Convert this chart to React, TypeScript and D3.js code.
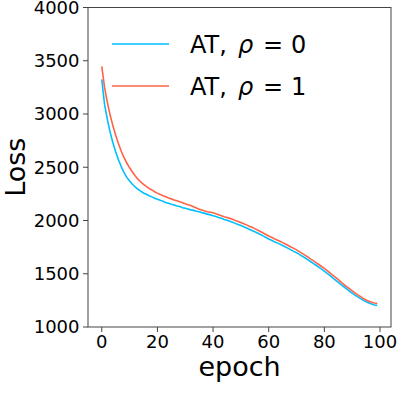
import React from 'react';
import * as d3 from 'd3';

// loss per epoch
const lossRho0 = [
  3325, 3090, 2950, 2830, 2730, 2645, 2570, 2505, 2450, 2405,
  2370, 2340, 2315, 2293, 2276, 2258, 2246, 2232, 2222, 2208,
  2200, 2190, 2181, 2168, 2162, 2153, 2146, 2136, 2131, 2120,
  2115, 2108, 2100, 2095, 2086, 2082, 2074, 2067, 2060, 2053,
  2045, 2037, 2028, 2021, 2010, 2002, 1993, 1984, 1973, 1962,
  1952, 1941, 1930, 1918, 1907, 1895, 1882, 1869, 1856, 1841,
  1826, 1814, 1801, 1790, 1778, 1765, 1752, 1738, 1724, 1710,
  1698, 1682, 1666, 1650, 1633, 1615, 1598, 1580, 1562, 1543,
  1525, 1504, 1484, 1462, 1441, 1420, 1398, 1378, 1358, 1338,
  1319, 1300, 1283, 1266, 1250, 1237, 1225, 1215, 1207, 1203,
];
const lossRho1 = [
  3447, 3250, 3110, 2990, 2890, 2800, 2720, 2650, 2590, 2540,
  2495, 2455, 2420, 2388, 2362, 2340, 2320, 2302, 2287, 2270,
  2257, 2245, 2232, 2222, 2211, 2203, 2193, 2186, 2176, 2167,
  2157, 2148, 2140, 2130, 2118, 2106, 2098, 2090, 2083, 2078,
  2072, 2064, 2055, 2045, 2036, 2029, 2020, 2011, 2001, 1991,
  1981, 1970, 1959, 1946, 1936, 1924, 1910, 1897, 1883, 1869,
  1854, 1842, 1829, 1817, 1805, 1792, 1779, 1765, 1751, 1738,
  1724, 1708, 1692, 1675, 1658, 1640, 1623, 1605, 1587, 1568,
  1550, 1529, 1508, 1486, 1465, 1444, 1422, 1400, 1380, 1360,
  1340, 1320, 1302, 1285, 1268, 1254, 1242, 1232, 1225, 1222,
];
const xTicks = [0, 20, 40, 60, 80, 100];
const yTicks = [1000, 1500, 2000, 2500, 3000, 3500, 4000];
const series = [
  { label: '0', values: lossRho0, color: '#00bfff' },
  { label: '1', values: lossRho1, color: '#ff6347' },
];

const W = 399;
const H = 399;
const left = 88;
const right = 391;
const top = 7.5;
const bottom = 327;
const font = 'DejaVu Sans, sans-serif';

export default function App() {
  const n = lossRho0.length;
  const pad = (n - 1) * 0.05;
  const x = d3.scaleLinear().domain([-pad, n - 1 + pad]).range([left, right]);
  const y = d3.scaleLinear().domain([1000, 4000]).range([bottom, top]);

  const line = d3.line<number>()
    .x((d, i) => x(i))
    .y(d => y(d));

  return (
    <svg width={W} height={H} style={{ position: 'absolute', left: 0, top: 0, background: '#fff' }}
      fontFamily={font}>
      {series.map(s => (
        <path key={s.label} d={line(s.values) ?? ''} fill="none" stroke={s.color} strokeWidth={1.6} />
      ))}

      {/* frame */}
      <rect x={left} y={top} width={right - left} height={bottom - top} fill="none" stroke="#444" strokeWidth={1} />

      {/* y axis */}
      {yTicks.map(t => (
        <g key={t}>
          <line x1={left - 5} x2={left} y1={y(t)} y2={y(t)} stroke="#444" />
          <text x={left - 8.5} y={y(t)} dy="0.36em" textAnchor="end" fontSize={18}>{t}</text>
        </g>
      ))}
      {/* x axis */}
      {xTicks.map(t => (
        <g key={t}>
          <line x1={x(t)} x2={x(t)} y1={bottom} y2={bottom + 5} stroke="#444" />
          <text x={x(t)} y={348} textAnchor="middle" fontSize={18}>{t}</text>
        </g>
      ))}

      <text x={(left + right) / 2} y={376} textAnchor="middle" fontSize={27}>epoch</text>
      <text transform={`translate(25,${(top + bottom) / 2}) rotate(-90)`} textAnchor="middle" fontSize={27}>Loss</text>

      {/* legend */}
      {series.map((s, i) => {
        const ly = 44 + i * 42;
        return (
          <g key={s.label}>
            <line x1={112} x2={169} y1={ly} y2={ly} stroke={s.color} strokeWidth={1.6} />
            <text y={ly + 8.5} fontSize={24}>
              <tspan x={190}>AT,</tspan>
              <tspan x={238} fontStyle="italic">ρ</tspan>
              <tspan x={263}>=</tspan>
              <tspan x={291}>{s.label}</tspan>
            </text>
          </g>
        );
      })}
    </svg>
  );
}
